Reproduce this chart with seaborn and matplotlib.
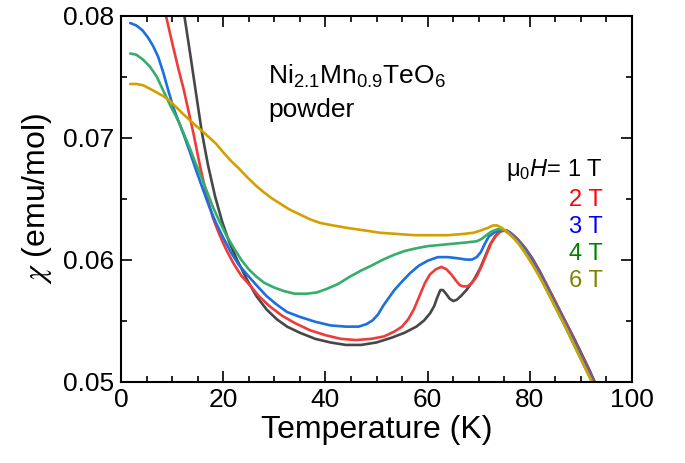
import numpy as np
import pandas as pd
import matplotlib
matplotlib.use("Agg")
import matplotlib.pyplot as plt
import seaborn as sns
from matplotlib.ticker import MultipleLocator

# ---- data ----
fields = ["1 T", "2 T", "3 T", "4 T", "6 T"]

T_1T = [11.0, 12.4, 13.6, 14.8, 15.8, 17.0, 18.4, 19.8, 21.2, 22.8, 24.6, 26.5, 28.5, 30.5, 32.5, 35.0,
        38.0, 41.0, 44.0, 47.0, 50.0, 53.0, 55.5, 57.8, 59.3, 60.5, 61.3, 61.9, 62.5, 63.0, 63.6, 64.3,
        65.0, 65.7, 66.5, 67.6, 69.0, 70.3, 71.3, 72.2, 73.2, 74.2, 75.2, 76.2, 77.5, 79.0, 80.5, 82.0,
        83.6, 85.3, 87.0, 88.6, 90.1, 91.6, 93.0, 94.0]
chi_1T = [0.0832, 0.0800, 0.0767, 0.0733, 0.0705, 0.0678, 0.0652, 0.0631, 0.0614, 0.0599, 0.0584, 0.0570,
          0.0559, 0.0551, 0.0545, 0.0540, 0.0535, 0.0532, 0.0530, 0.0530, 0.0532, 0.0536, 0.0540, 0.0545,
          0.0550, 0.0556, 0.0562, 0.0569, 0.0575, 0.0575, 0.0572, 0.0568, 0.0566, 0.0567, 0.0570, 0.0575,
          0.0583, 0.0593, 0.0603, 0.0612, 0.0619, 0.0623, 0.0624, 0.0622, 0.0617, 0.0610, 0.0601, 0.0590,
          0.0577, 0.0563, 0.0549, 0.0536, 0.0523, 0.0510, 0.0497, 0.0489]

T_2T = [7.5, 8.8, 10.0, 11.2, 12.3, 13.2, 14.2, 15.4, 16.8, 18.0, 19.3, 20.6, 22.0, 23.5, 25.2, 27.0, 29.0,
        31.5, 34.0, 37.0, 40.0, 43.0, 46.0, 49.0, 51.5, 53.5, 55.0, 56.2, 57.3, 58.4, 59.5, 60.5, 61.6,
        62.7, 63.7, 64.6, 65.5, 66.3, 67.0, 67.8, 68.7, 69.6, 70.5, 71.5, 72.5, 73.5, 74.5, 75.5, 76.5,
        77.8, 79.3, 80.8, 82.3, 83.8, 85.5, 87.2, 88.8, 90.3, 91.8, 93.2, 94.0]
chi_2T = [0.0832, 0.0800, 0.0778, 0.0757, 0.0739, 0.0722, 0.0703, 0.0678, 0.0652, 0.0634, 0.0620, 0.0608,
          0.0597, 0.0587, 0.0579, 0.0570, 0.0562, 0.0554, 0.0548, 0.0542, 0.0538, 0.0535, 0.0534, 0.0535,
          0.0537, 0.0541, 0.0545, 0.0551, 0.0559, 0.0570, 0.0581, 0.0588, 0.0592, 0.0594, 0.0592, 0.0588,
          0.0583, 0.0579, 0.0578, 0.0578, 0.0581, 0.0586, 0.0594, 0.0604, 0.0614, 0.0620, 0.0624, 0.0624,
          0.0621, 0.0616, 0.0608, 0.0598, 0.0587, 0.0575, 0.0561, 0.0547, 0.0533, 0.0520, 0.0507, 0.0495,
          0.0488]

T_3T = [1.8, 3.0, 4.2, 5.3, 6.3, 7.3, 8.3, 9.3, 10.3, 11.3, 12.3, 13.5, 14.8, 16.0, 17.3, 18.6, 20.0, 21.5,
        23.0, 24.6, 26.5, 28.5, 30.5, 32.5, 35.0, 38.0, 41.0, 44.0, 46.5, 48.0, 49.2, 50.3, 51.3, 52.3,
        53.5, 55.0, 56.6, 58.3, 60.0, 62.0, 64.0, 66.0, 67.5, 68.7, 69.6, 70.4, 71.2, 72.0, 73.0, 74.2,
        75.3, 76.3, 77.6, 79.1, 80.6, 82.1, 83.6, 85.3, 87.0, 88.6, 90.1, 91.6, 93.0, 93.8]
chi_3T = [0.0794, 0.0792, 0.0788, 0.0782, 0.0775, 0.0766, 0.0753, 0.0738, 0.0724, 0.0713, 0.0702, 0.0688,
          0.0672, 0.0658, 0.0643, 0.0630, 0.0618, 0.0606, 0.0596, 0.0588, 0.0579, 0.0570, 0.0563, 0.0557,
          0.0553, 0.0549, 0.0546, 0.0545, 0.0545, 0.0547, 0.0550, 0.0555, 0.0562, 0.0568, 0.0575, 0.0582,
          0.0589, 0.0595, 0.0599, 0.0602, 0.0602, 0.0601, 0.0600, 0.0600, 0.0602, 0.0606, 0.0613, 0.0619,
          0.0622, 0.0624, 0.0624, 0.0621, 0.0616, 0.0608, 0.0598, 0.0587, 0.0575, 0.0561, 0.0547, 0.0533,
          0.0520, 0.0507, 0.0495, 0.0488]

T_4T = [1.8, 3.0, 4.3, 5.7, 7.0, 8.0, 8.9, 9.8, 10.7, 11.5, 12.5, 13.5, 14.5, 15.6, 16.8, 18.0, 19.3, 20.6,
        22.0, 23.5, 25.0, 26.5, 28.0, 30.0, 32.0, 34.0, 36.3, 38.3, 40.3, 42.5, 44.8, 47.0, 49.0, 51.3,
        53.5, 55.5, 57.5, 60.0, 62.5, 65.0, 67.5, 69.6, 70.6, 71.5, 72.5, 73.8, 75.0, 76.0, 77.3, 78.8,
        80.3, 81.8, 83.3, 85.0, 86.7, 88.3, 89.8, 91.3, 92.7, 93.5]
chi_4T = [0.0769, 0.0768, 0.0764, 0.0758, 0.0750, 0.0741, 0.0733, 0.0725, 0.0718, 0.0711, 0.0701, 0.0691,
          0.0680, 0.0669, 0.0656, 0.0643, 0.0631, 0.0620, 0.0610, 0.0600, 0.0592, 0.0586, 0.0581, 0.0577,
          0.0574, 0.0572, 0.0572, 0.0573, 0.0576, 0.0580, 0.0586, 0.0591, 0.0595, 0.0600, 0.0604, 0.0607,
          0.0609, 0.0611, 0.0612, 0.0613, 0.0614, 0.0615, 0.0617, 0.0620, 0.0623, 0.0625, 0.0624, 0.0621,
          0.0616, 0.0608, 0.0598, 0.0587, 0.0575, 0.0561, 0.0547, 0.0533, 0.0520, 0.0507, 0.0495, 0.0488]

T_6T = [1.8, 3.0, 4.3, 5.7, 7.0, 8.3, 9.6, 10.8, 12.0, 13.3, 14.6, 16.0, 17.3, 18.6, 20.0, 21.5, 23.0, 24.6,
        26.3, 28.0, 29.6, 31.1, 33.0, 35.0, 37.0, 39.0, 41.5, 44.2, 47.5, 50.7, 54.0, 57.5, 61.0, 64.0,
        67.0, 69.0, 70.5, 71.8, 72.8, 73.6, 74.5, 75.5, 76.5, 77.8, 79.3, 80.8, 82.3, 83.8, 85.5, 87.2,
        88.8, 90.3, 91.8, 93.0]
chi_6T = [0.0744, 0.0744, 0.0743, 0.0740, 0.0737, 0.0734, 0.0730, 0.0725, 0.0720, 0.0715, 0.0710, 0.0705,
          0.0700, 0.0695, 0.0688, 0.0681, 0.0675, 0.0668, 0.0661, 0.0655, 0.0650, 0.0646, 0.0641, 0.0637,
          0.0633, 0.0630, 0.0628, 0.0626, 0.0624, 0.0622, 0.0621, 0.0620, 0.0620, 0.0620, 0.0621, 0.0622,
          0.0624, 0.0626, 0.0628, 0.0628, 0.0626, 0.0623, 0.0619, 0.0613, 0.0604, 0.0594, 0.0583, 0.0571,
          0.0557, 0.0543, 0.0529, 0.0516, 0.0503, 0.0493]

series_T = [T_1T, T_2T, T_3T, T_4T, T_6T]
series_chi = [chi_1T, chi_2T, chi_3T, chi_4T, chi_6T]

line_colors = ["#474747", "#ef3b3b", "#1b6fe0", "#36ad6a", "#d4a000"]
label_colors = ["#000000", "#ff0000", "#0000ff", "#008000", "#808000"]

frames = [pd.DataFrame({"T": t, "chi": c, "field": f}) for t, c, f in zip(series_T, series_chi, fields)]
df = pd.concat(frames, ignore_index=True)

# ---- style ----
sns.set_theme(style="ticks")
plt.rcParams["font.family"] = ["Liberation Sans", "DejaVu Sans"]
plt.rcParams["mathtext.fontset"] = "custom"
plt.rcParams["mathtext.rm"] = "Liberation Sans"
plt.rcParams["mathtext.it"] = "Liberation Sans:italic"
plt.rcParams["mathtext.bf"] = "Liberation Sans:bold"

fig = plt.figure(figsize=(6.85, 4.63), dpi=100)
ax = fig.add_axes([121 / 685, (463 - 381.5) / 463, 511 / 685, 365.8 / 463])

sns.lineplot(data=df, x="T", y="chi", hue="field", hue_order=fields,
             palette=dict(zip(fields, line_colors)), sort=False, estimator=None,
             linewidth=1.9, ax=ax, legend=False)
for ln in ax.lines:
    ln.set_solid_joinstyle("round")
    ln.set_solid_capstyle("round")

ax.set_xlim(0, 100)
ax.set_ylim(0.05, 0.08)
ax.xaxis.set_major_locator(MultipleLocator(20))
ax.xaxis.set_minor_locator(MultipleLocator(5))
ax.yaxis.set_major_locator(MultipleLocator(0.01))
ax.yaxis.set_minor_locator(MultipleLocator(0.005))
ax.tick_params(which="both", direction="in", top=True, right=True, width=1.2, colors="black")
ax.tick_params(which="major", length=8, labelsize=19, pad=5)
ax.tick_params(which="minor", length=4.5)
ax.set_xticks([0, 20, 40, 60, 80, 100])
ax.set_xticklabels(["0", "20", "40", "60", "80", "100"])
ax.set_yticks([0.05, 0.06, 0.07, 0.08])
ax.set_yticklabels(["0.05", "0.06", "0.07", "0.08"])
for s in ax.spines.values():
    s.set_linewidth(1.5)
    s.set_color("black")

ax.set_xlabel("Temperature (K)", fontsize=23, labelpad=2, color="black")
ax.set_ylabel(r"$\chi$ (emu/mol)", fontsize=23, labelpad=6, color="black", math_fontfamily="stix")

ax.text(0.288, 0.815, r"Ni$_{\mathregular{2.1}}$Mn$_{\mathregular{0.9}}$TeO$_{\mathregular{6}}$",
        transform=ax.transAxes, fontsize=19, ha="left", va="baseline", color="black")
ax.text(0.288, 0.722, "powder", transform=ax.transAxes, fontsize=19, ha="left", va="baseline", color="black")

leg_labels = [r"$\mathregular{\mu_0}\mathit{H}$= 1 T", "2 T", "3 T", "4 T", "6 T"]
leg_y = [0.578, 0.497, 0.422, 0.349, 0.275]
for lab, y, c in zip(leg_labels, leg_y, label_colors):
    ax.text(0.943, y, lab, transform=ax.transAxes, fontsize=17, ha="right", va="center", color=c)

fig.savefig("out.png", dpi=100)
